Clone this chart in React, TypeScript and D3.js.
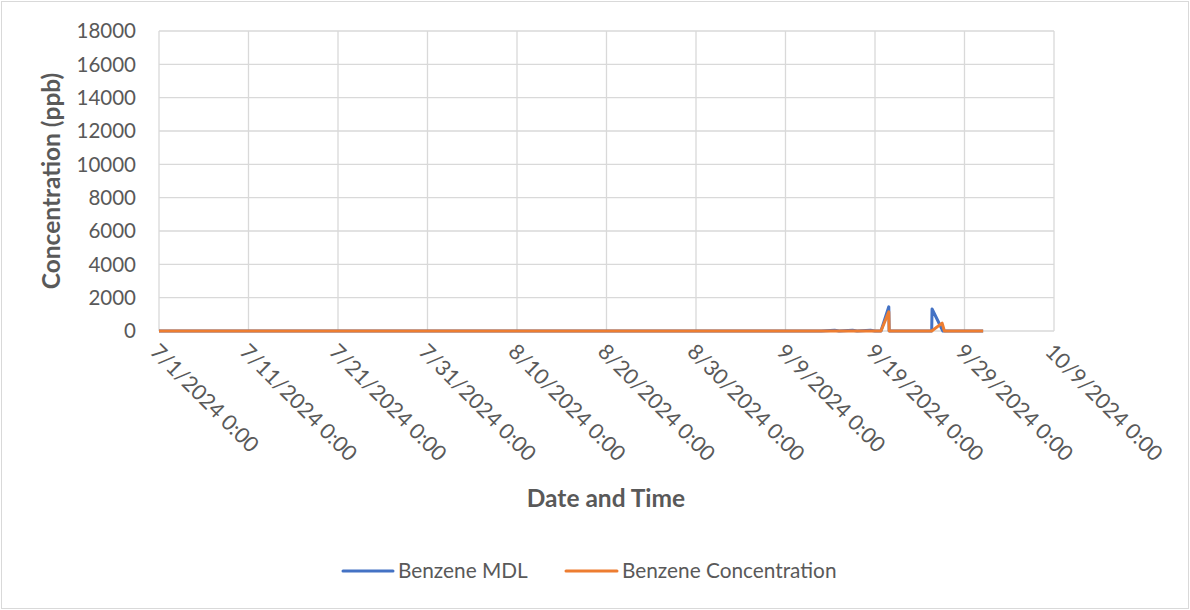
import React from "react";
import * as d3 from "d3";

const mdlTimes = [
  "2024-07-01T00:00", "2024-09-13T00:00", "2024-09-14T12:00", "2024-09-15T00:00", "2024-09-16T12:00", "2024-09-17T00:00",
  "2024-09-18T12:00", "2024-09-19T00:00", "2024-09-19T16:00", "2024-09-20T13:00", "2024-09-20T14:00",
  "2024-09-25T08:00", "2024-09-25T09:00", "2024-09-26T14:00", "2024-10-01T02:00",
];
const mdlValues = [0, 0, 40, 0, 40, 0, 40, 0, 0, 1450, 0, 0, 1320, 0, 0];

const concTimes = [
  "2024-07-01T00:00", "2024-09-19T16:00", "2024-09-20T13:00", "2024-09-20T14:00",
  "2024-09-25T08:00", "2024-09-26T12:00", "2024-09-26T18:00", "2024-10-01T02:00",
];
const concValues = [0, 0, 1150, 0, 0, 470, 0, 0];

const yTicks = [0, 2000, 4000, 6000, 8000, 10000, 12000, 14000, 16000, 18000];
const xTickLabels = [
  "7/1/2024 0:00", "7/11/2024 0:00", "7/21/2024 0:00", "7/31/2024 0:00", "8/10/2024 0:00", "8/20/2024 0:00",
  "8/30/2024 0:00", "9/9/2024 0:00", "9/19/2024 0:00", "9/29/2024 0:00", "10/9/2024 0:00",
];
const seriesNames = ["Benzene MDL", "Benzene Concentration"];
const colors = ["#4472C4", "#ED7D31"];

const W = 1190, H = 610;
const L = 159, R = 1054, T = 31, B = 331;
const FONT = "Lato, 'Open Sans', sans-serif";
const TXT = "#595959";

export default function App() {
  const parse = (s: string) => new Date(s);
  const x = d3.scaleTime().domain([parse("2024-07-01T00:00"), parse("2024-10-09T00:00")]).range([L, R]);
  const y = d3.scaleLinear().domain([0, 18000]).range([B, T]);
  const tickDates = d3.range(0, 11).map((i) => d3.timeDay.offset(parse("2024-07-01T00:00"), i * 10));
  const line = d3.line<[Date, number]>().x((d) => x(d[0])).y((d) => y(d[1]));
  const mdl = mdlTimes.map((t, i) => [parse(t), mdlValues[i]] as [Date, number]);
  const conc = concTimes.map((t, i) => [parse(t), concValues[i]] as [Date, number]);

  return (
    <svg width={W} height={H} style={{ display: "block", position: "absolute", left: 0, top: 0 }} fontFamily={FONT}>
      <rect x={0} y={0} width={W} height={H} fill="#fff" />
      <rect x={1.5} y={1.5} width={W - 3} height={H - 3} fill="none" stroke="#d9d9d9" strokeWidth={1} />
      {yTicks.map((v) => (
        <line key={"gy" + v} x1={L} x2={R} y1={y(v)} y2={y(v)} stroke="#d9d9d9" strokeWidth={1.3} />
      ))}
      {tickDates.map((d, i) => (
        <line key={"gx" + i} x1={x(d)} x2={x(d)} y1={T} y2={B} stroke="#d9d9d9" strokeWidth={1.3} />
      ))}
      {yTicks.map((v) => (
        <text key={"ty" + v} x={136} y={y(v)} dy="0.35em" textAnchor="end" fontSize={20.5} fill={TXT}>
          {v}
        </text>
      ))}
      {tickDates.map((d, i) => (
        <text
          key={"tx" + i}
          transform={`translate(${x(d) - 10},${353}) rotate(45)`}
          textAnchor="start"
          fontSize={21.5}
          fill={TXT}
        >
          {xTickLabels[i]}
        </text>
      ))}
      <path d={line(mdl) || ""} fill="none" stroke={colors[0]} strokeWidth={3} strokeLinejoin="round" />
      <path d={line(conc) || ""} fill="none" stroke={colors[1]} strokeWidth={3} strokeLinejoin="round" />
      <text transform={`translate(60,${(T + B) / 2}) rotate(-90)`} textAnchor="middle" fontSize={24.5} fontWeight="bold" fill={TXT}>
        Concentration (ppb)
      </text>
      <text x={606} y={507} textAnchor="middle" fontSize={24.5} fontWeight="bold" fill={TXT}>
        Date and Time
      </text>
      <g>
        <line x1={343} x2={393} y1={571} y2={571} stroke={colors[0]} strokeWidth={3} strokeLinecap="round" />
        <text x={398} y={571} dy="0.35em" fontSize={20.8} fill={TXT}>{seriesNames[0]}</text>
        <line x1={566} x2={617} y1={571} y2={571} stroke={colors[1]} strokeWidth={3} strokeLinecap="round" />
        <text x={622} y={571} dy="0.35em" fontSize={20.8} fill={TXT}>{seriesNames[1]}</text>
      </g>
    </svg>
  );
}
